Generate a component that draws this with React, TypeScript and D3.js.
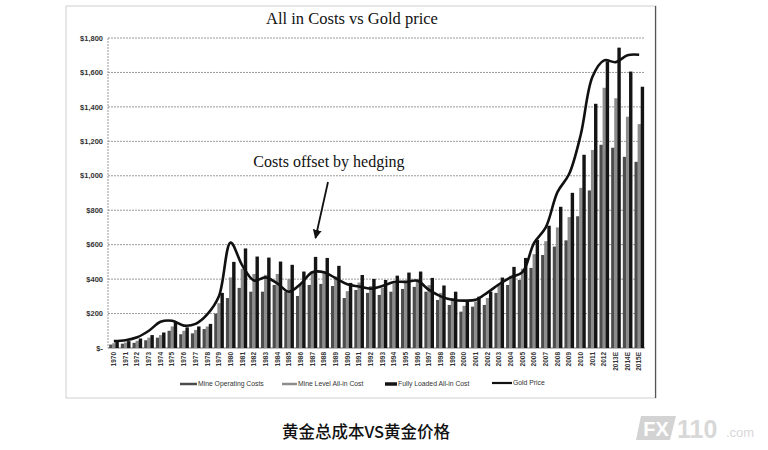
import React from "react";
import * as d3 from "d3";

const years: string[] = [
  "1970","1971","1972","1973","1974","1975","1976","1977","1978","1979",
  "1980","1981","1982","1983","1984","1985","1986","1987","1988","1989",
  "1990","1991","1992","1993","1994","1995","1996","1997","1998","1999",
  "2000","2001","2002","2003","2004","2005","2006","2007","2008","2009",
  "2010","2011","2012","2013E","2014E","2015E",
];

const mineOperating: number[] = [
  20, 25, 30, 45, 60, 100, 80, 85, 110, 200,
  290, 349, 327, 327, 366, 327, 302, 366, 372, 360,
  290, 337, 320, 308, 327, 343, 355, 327, 279, 250,
  211, 240, 250, 320, 366, 395, 465, 540, 589, 625,
  765, 915, 1180, 1163, 1110, 1081,
];

const mineLevel: number[] = [
  28, 32, 42, 60, 75, 125, 100, 105, 125, 260,
  410, 460, 430, 425, 430, 400, 370, 445, 445, 415,
  330, 380, 360, 350, 375, 390, 400, 365, 320, 290,
  245, 270, 290, 365, 420, 460, 545, 620, 700, 760,
  930, 1150, 1511, 1450, 1343, 1300,
];

const fullyLoaded: number[] = [
  35, 40, 55, 75, 90, 150, 120, 125, 140, 320,
  500, 578, 531, 525, 502, 483, 444, 529, 523, 477,
  378, 424, 401, 395, 420, 438, 444, 407, 363, 327,
  279, 298, 327, 409, 471, 523, 628, 710, 820, 901,
  1122, 1418, 1663, 1744, 1605, 1517,
];

const goldPrice: number[] = [
  40, 45, 62, 100, 152, 158, 130, 140, 195, 300,
  612, 480, 392, 410, 375, 327, 372, 440, 440, 405,
  370, 357, 345, 360, 383, 384, 390, 337, 300, 280,
  275, 280, 322, 370, 410, 440, 610, 700, 905, 1010,
  1240, 1575, 1670, 1660, 1700, 1703,
];

const yTicks: number[] = [0, 200, 400, 600, 800, 1000, 1200, 1400, 1600, 1800];

const seriesNames: string[] = [
  "Mine Operating Costs",
  "Mine Level All-in Cost",
  "Fully Loaded All-in Cost",
];
const seriesData: number[][] = [mineOperating, mineLevel, fullyLoaded];
const seriesColors: string[] = ["#4c4c4c", "#8c8c8c", "#141414"];

export default function App() {
  const left = 108;
  const right = 645;
  const top = 38;
  const bottom = 348;

  const x = d3.scaleBand<string>().domain(years).range([left, right]).paddingInner(0.2).paddingOuter(0.1);
  const inner = d3
    .scaleBand<string>()
    .domain(seriesNames)
    .range([0, x.bandwidth()])
    .padding(0);
  const y = d3.scaleLinear().domain([0, 1800]).range([bottom, top]);

  const fmt = (v: number) => (v === 0 ? "$-" : "$" + d3.format(",")(v));

  const line = d3
    .line<number>()
    .x((_, i) => (x(years[i]) as number) + x.bandwidth() / 2)
    .y((d) => y(d))
    .curve(d3.curveCatmullRom.alpha(0.5));

  const serif = "'Liberation Serif', 'DejaVu Serif', serif";
  const sans = "'Liberation Sans', Arial, sans-serif";

  return (
    <svg
      width={768}
      height={450}
      style={{ position: "absolute", left: 0, top: 0, background: "#fff" }}
    >
      <rect x={0} y={0} width={768} height={450} fill="#fff" />
      {/* outer frame */}
      <rect x={66} y={6} width={590} height={392} fill="none" stroke="#d0d0d0" strokeWidth={1} />
      <line x1={655.5} x2={655.5} y1={6} y2={398} stroke="#555" strokeWidth={1.2} />

      {/* title */}
      <text x={352} y={24} textAnchor="middle" fontFamily={serif} fontSize={16.5} fill="#111">
        All in Costs vs Gold price
      </text>

      {/* gridlines */}
      {yTicks.map((t) => (
        <g key={t}>
          <line
            x1={left}
            x2={right}
            y1={y(t)}
            y2={y(t)}
            stroke={t === 0 ? "#777" : "#9a9a9a"}
            strokeWidth={1}
            strokeDasharray={t === 0 ? undefined : "2 1"}
          />
          <text
            x={103}
            y={y(t)}
            dy="0.35em"
            textAnchor="end"
            fontFamily={sans}
            fontWeight="bold"
            fontSize={7.5}
            fill="#333"
          >
            {fmt(t)}
          </text>
        </g>
      ))}
      <line x1={left} x2={left} y1={top} y2={bottom} stroke="#999" strokeDasharray="2 1" />

      {/* bars */}
      {seriesData.map((arr, s) =>
        arr.map((v, i) => (
          <rect
            key={s + "-" + i}
            x={(x(years[i]) as number) + (inner(seriesNames[s]) as number)}
            y={y(v)}
            width={inner.bandwidth() + 0.3}
            height={bottom - y(v)}
            fill={seriesColors[s]}
          />
        ))
      )}

      {/* gold line */}
      <path d={line(goldPrice) || ""} fill="none" stroke="#111" strokeWidth={2.6} strokeLinejoin="round" />

      {/* x labels */}
      {years.map((yr) => {
        const cx = (x(yr) as number) + x.bandwidth() / 2;
        return (
          <text
            key={yr}
            transform={`translate(${cx},${352}) rotate(-90)`}
            textAnchor="end"
            dy="0.35em"
            fontFamily={sans}
            fontWeight="bold"
            fontSize={6.5}
            fill="#333"
          >
            {yr}
          </text>
        );
      })}

      {/* annotation */}
      <text x={329} y={167} textAnchor="middle" fontFamily={serif} fontSize={16} fill="#111">
        Costs offset by hedging
      </text>
      <defs>
        <marker id="ah" viewBox="0 0 10 10" refX={9} refY={5} markerWidth={5} markerHeight={6} orient="auto">
          <path d="M0,0 L10,5 L0,10 z" fill="#111" />
        </marker>
      </defs>
      <line x1={328} y1={182} x2={315.5} y2={238} stroke="#111" strokeWidth={1.8} markerEnd="url(#ah)" />

      {/* legend */}
      <g fontFamily={sans} fontSize={6.8} fill="#333">
        <line x1={180} x2={197} y1={384} y2={384} stroke={seriesColors[0]} strokeWidth={2.5} />
        <text x={198} y={384} dy="0.35em">{seriesNames[0]}</text>
        <line x1={282} x2={297} y1={384} y2={384} stroke={seriesColors[1]} strokeWidth={2.5} />
        <text x={298} y={384} dy="0.35em">{seriesNames[1]}</text>
        <line x1={385} x2={397} y1={384} y2={384} stroke={seriesColors[2]} strokeWidth={3.5} />
        <text x={398} y={384} dy="0.35em">{seriesNames[2]}</text>
        <line x1={492} x2={512} y1={383} y2={383} stroke="#111" strokeWidth={2.2} />
        <text x={513} y={383} dy="0.35em">Gold Price</text>
      </g>

      {/* caption */}
      <text
        x={366}
        y={438}
        textAnchor="middle"
        fontFamily="'Noto Sans CJK SC', sans-serif"
        fontWeight={500}
        fontSize={16.5}
        fill="#111"
      >
        黄金总成本VS黄金价格
      </text>

      {/* watermark */}
      <g opacity={0.9}>
        <path d="M641,416 L676,416 L670,440 L636,440 Z" fill="#cfcfcf" />
        <text x={656} y={436} textAnchor="middle" fontFamily={sans} fontWeight="bold" fontSize={20} fill="#fff">
          FX
        </text>
        <text x={677} y={438} fontFamily={sans} fontWeight="bold" fontSize={25} fill="#d4d4d4">
          110
        </text>
        <text x={726} y={437} fontFamily={sans} fontSize={13} fill="#d4d4d4">
          .com
        </text>
      </g>
    </svg>
  );
}
